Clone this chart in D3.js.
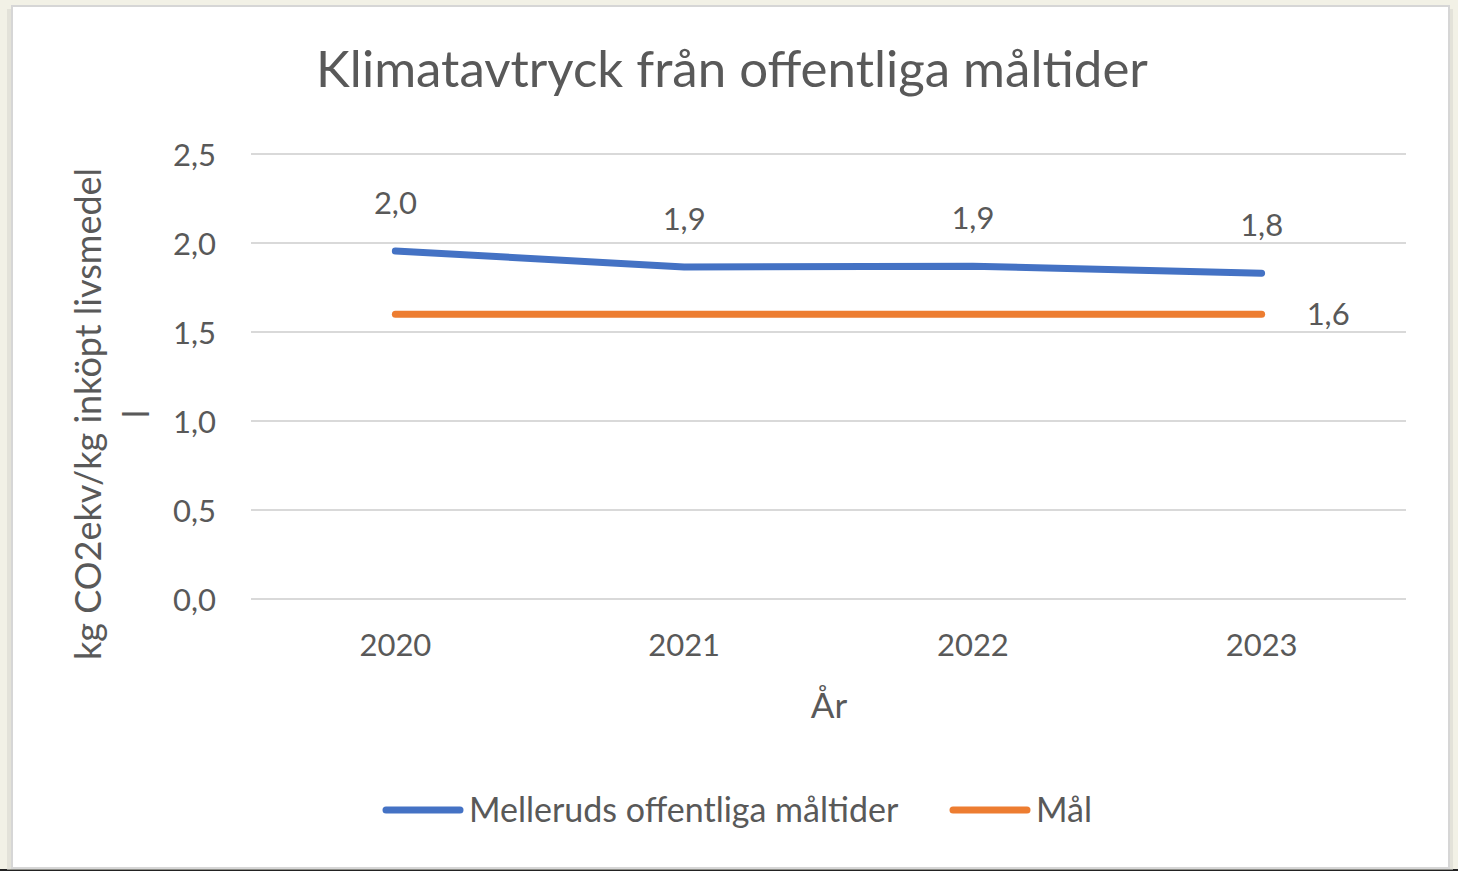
<!DOCTYPE html>
<html>
<head>
<meta charset="utf-8">
<script src="https://cdn.jsdelivr.net/npm/d3@7"></script>
<style>
  html, body { margin: 0; padding: 0; background: #f2f1e6; }
  svg { display: block; }
  text { font-family: Lato, "Open Sans", sans-serif; fill: #595959; }
</style>
</head>
<body>
<svg width="1458" height="871"></svg>
<script>
// Data
var years = ["2020", "2021", "2022", "2023"];
var mellerud = [1.955, 1.865, 1.87, 1.83];
var goal = [1.6, 1.6, 1.6, 1.6];
var yTicks = [0, 0.5, 1, 1.5, 2, 2.5];
var seriesNames = ["Melleruds offentliga måltider", "Mål"];
var seriesColors = ["#4472c4", "#ed7d31"];

var svg = d3.select("svg");
var fmt = function (v) { return d3.format(".1f")(v).replace(".", ","); };

// chart box with shadow
svg.append("rect").attr("x", 0).attr("y", 869).attr("width", 1458).attr("height", 2).attr("fill", "#222");
svg.append("rect").attr("x", 7).attr("y", 9).attr("width", 1446).attr("height", 861).attr("fill", "#d8d8d0").attr("opacity", 0.6);
svg.append("rect")
    .attr("x", 12).attr("y", 6)
    .attr("width", 1437).attr("height", 862)
    .attr("fill", "#fff")
    .attr("stroke", "#d6d6d6")
    .attr("stroke-width", 2);

var margin = { top: 154, left: 251, right: 52, bottom: 272 },
    width = 1458 - margin.left - margin.right,
    height = 871 - margin.top - margin.bottom;

var x = d3.scaleBand().domain(years).range([0, width]);
var y = d3.scaleLinear().domain([0, 2.5]).range([height, 0]);

var g = svg.append("g").attr("transform", "translate(" + margin.left + "," + margin.top + ")");

// gridlines
g.selectAll(".grid")
    .data(yTicks)
    .enter().append("line")
    .attr("x1", 0).attr("x2", width)
    .attr("y1", function (d) { return y(d); })
    .attr("y2", function (d) { return y(d); })
    .attr("stroke", "#d9d9d9")
    .attr("stroke-width", 2);

// y axis
var yAxis = g.append("g")
    .call(d3.axisLeft(y).tickValues(yTicks).tickFormat(fmt).tickSize(0).tickPadding(35));
yAxis.select(".domain").remove();
yAxis.selectAll("text").style("font-size", "31px").attr("fill", "#595959").attr("dy", "0.36em");

// x axis
var xAxis = g.append("g")
    .attr("transform", "translate(0," + height + ")")
    .call(d3.axisBottom(x).tickSize(0).tickPadding(35));
xAxis.select(".domain").remove();
xAxis.selectAll("text").style("font-size", "31px").attr("fill", "#595959");

// axis titles
svg.append("text")
    .attr("x", 829).attr("y", 718)
    .attr("text-anchor", "middle")
    .style("font-size", "35px")
    .text("År");

var yTitle = svg.append("text")
    .attr("transform", "translate(101,414) rotate(-90)")
    .attr("text-anchor", "middle")
    .style("font-size", "36px");
yTitle.append("tspan").attr("x", 0).attr("dy", 0).text("kg CO2ekv/kg inköpt livsmedel");
yTitle.append("tspan").attr("x", 0).attr("dy", 48).text("l");

// lines
var line = d3.line()
    .x(function (d, i) { return x(years[i]) + x.bandwidth() / 2; })
    .y(function (d) { return y(d); });

[mellerud, goal].forEach(function (s, k) {
    g.append("path")
        .datum(s)
        .attr("d", line)
        .attr("fill", "none")
        .attr("stroke", seriesColors[k])
        .attr("stroke-width", 7)
        .attr("stroke-linecap", "round")
        .attr("stroke-linejoin", "round");
});

// data labels
g.selectAll(".lbl")
    .data(mellerud)
    .enter().append("text")
    .attr("x", function (d, i) { return x(years[i]) + x.bandwidth() / 2; })
    .attr("y", function (d) { return y(d) - 37; })
    .attr("text-anchor", "middle")
    .style("font-size", "31px")
    .text(fmt);

g.append("text")
    .attr("x", x(years[3]) + x.bandwidth() / 2 + 45)
    .attr("y", y(goal[3]) + 11)
    .style("font-size", "31px")
    .text(fmt(goal[3]));

// title
svg.append("text")
    .attr("x", 732).attr("y", 87)
    .attr("text-anchor", "middle")
    .style("font-size", "51px")
    .text("Klimatavtryck från offentliga måltider");

// legend
var legendX = [383, 950];
seriesNames.forEach(function (n, k) {
    svg.append("line")
        .attr("x1", legendX[k] + 3).attr("x2", legendX[k] + 77)
        .attr("y1", 810).attr("y2", 810)
        .attr("stroke", seriesColors[k])
        .attr("stroke-width", 7)
        .attr("stroke-linecap", "round");
    svg.append("text")
        .attr("x", legendX[k] + 86).attr("y", 822)
        .style("font-size", "34px")
        .text(n);
});
</script>
</body>
</html>
